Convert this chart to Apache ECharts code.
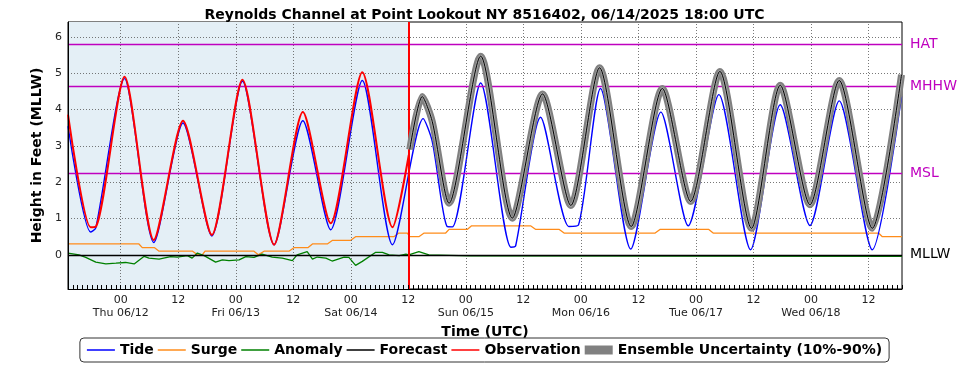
<!DOCTYPE html>
<html>
<head>
<meta charset="utf-8">
<script src="https://cdn.jsdelivr.net/npm/echarts@6/dist/echarts.min.js"></script>
<style>
  html, body { margin: 0; padding: 0; background: #fff; }
  #chart { width: 969px; height: 370px; }
</style>
</head>
<body>
<div id="chart"></div>
<script>
// hours counted from Thu 06/12 00:00
const dayLabels = ['Thu 06/12', 'Fri 06/13', 'Sat 06/14', 'Sun 06/15', 'Mon 06/16', 'Tue 06/17', 'Wed 06/18'];
const majorHours = [0, 12, 24, 36, 48, 60, 72, 84, 96, 108, 120, 132, 144, 156];
const yLabels = [0, 1, 2, 3, 4, 5, 6];
const nowHour = 60;

const tide = [[-11, 3.54], [-6.3, 0.63], [-5.2, 0.74], [0.8, 4.85], [6.9, 0.34], [13, 3.63], [19, 0.52],
  [25.4, 4.78], [32, 0.28], [38, 3.69], [43.8, 0.69], [50.4, 4.80], [56.7, 0.28], [63.1, 3.75], [65, 3.12],
  [68.1, 0.78], [69.2, 0.77], [75.1, 4.73], [81.4, 0.21], [82.4, 0.25], [87.6, 3.79], [93.5, 0.78], [95.5, 0.82],
  [100.1, 4.58], [106.4, 0.16], [112.7, 3.93], [118.4, 0.80], [124.8, 4.41], [131.4, 0.14], [137.6, 4.13],
  [143.8, 0.81], [149.9, 4.24], [156.8, 0.14], [162.9, 4.36]];

const observation = [[-11, 3.86], [-6.3, 0.76], [-5.2, 0.77], [0.8, 4.90], [6.9, 0.41], [13, 3.69], [19, 0.55],
  [25.4, 4.82], [32, 0.28], [38, 3.93], [43.8, 0.87], [50.4, 5.03], [56.7, 0.76], [60.1, 2.75]];

const forecast = [[60.3, 2.9], [62.9, 4.36], [65, 3.67], [68.5, 1.42], [75.1, 5.47], [81.7, 1.01], [88, 4.43],
  [93.9, 1.36], [99.9, 5.15], [106.5, 0.78], [113, 4.58], [118.9, 1.47], [125, 5.05], [131.6, 0.73],
  [137.6, 4.67], [143.8, 1.38], [149.9, 4.80], [156.8, 0.73], [162.9, 4.96]];

const surge = [[-11, 0.3], [3.8, 0.3], [4.5, 0.2], [7, 0.2], [8, 0.1], [15, 0.1], [16, 0.0], [17, 0.0], [17.6, 0.1],
  [27.8, 0.1], [28.7, 0.0], [29.9, 0.1], [35.1, 0.1], [36.2, 0.2], [39.1, 0.2], [40, 0.3], [43.1, 0.3], [44.2, 0.4],
  [48, 0.4], [49, 0.5], [57, 0.5], [58, 0.6], [59.8, 0.6], [60.3, 0.5], [62.2, 0.5], [63.3, 0.6], [67.8, 0.6],
  [68.5, 0.7], [72.3, 0.7], [73.2, 0.8], [85.5, 0.8], [86.6, 0.7], [91.5, 0.7], [92.5, 0.6], [111.5, 0.6],
  [112.5, 0.7], [122.7, 0.7], [123.6, 0.6], [158.1, 0.6], [158.9, 0.5], [163, 0.5]];

const anomaly = [[-11, 0.05], [-8.7, 0], [-7.3, -0.07], [-5.2, -0.2], [-3.1, -0.25], [-1, -0.23], [1, -0.21],
  [2.8, -0.25], [4.9, -0.04], [5.9, -0.09], [8, -0.12], [10.4, -0.05], [11.8, -0.06], [13.9, -0.02], [14.9, -0.09],
  [16, 0.05], [17.4, -0.02], [19.8, -0.2], [21.2, -0.14], [22.6, -0.16], [24.7, -0.14], [26.1, -0.05], [27.8, -0.07],
  [29.5, 0.02], [31.6, -0.06], [33.7, -0.09], [35.8, -0.16], [36.8, 0], [38.9, 0.09], [40, -0.12], [41, -0.06],
  [42.8, -0.09], [44.1, -0.17], [46.6, -0.06], [47.6, -0.07], [49, -0.29], [50.4, -0.18], [53.2, 0.07], [54.6, 0.07],
  [56, 0], [58.1, -0.02], [59.5, 0.02], [60.1, 0], [62.2, 0.09], [64.3, 0], [72.7, -0.03], [163, -0.04]];

const datums = [['HAT', 5.8], ['MHHW', 4.65], ['MSL', 2.25], ['MLLW', 0]];

const hourTicks = [];
for (let h = -11; h <= 163; h++) hourTicks.push(h);

const font = 'DejaVu Sans';
const magenta = '#bf00bf';
const gridLine = { type: [1, 2], color: '#555', width: 0.8 };
const lineIcon = 'path://M0,0 L28,0 L28,1.5 L0,1.5 Z';
const tideSmooth = 0.25;

const chart = echarts.init(document.getElementById('chart'));

const option = {
  animation: false,
  textStyle: { fontFamily: font },
  title: {
    text: 'Reynolds Channel at Point Lookout NY 8516402, 06/14/2025 18:00 UTC',
    left: 'center',
    top: 3,
    textStyle: { fontFamily: font, fontSize: 14, fontWeight: 'bold', color: '#000' }
  },
  grid: { left: 68, right: 67, top: 22, bottom: 81, show: true, borderColor: '#000', borderWidth: 1, backgroundColor: '#fff' },
  legend: {
    left: 'center',
    top: 338,
    itemWidth: 28,
    itemHeight: 9,
    itemGap: 4,
    padding: [5, 7],
    borderColor: '#333',
    borderWidth: 1,
    borderRadius: 4,
    textStyle: { fontFamily: font, fontSize: 14, fontWeight: 'bold', color: '#000' },
    data: [
      { name: 'Tide', icon: lineIcon },
      { name: 'Surge', icon: lineIcon },
      { name: 'Anomaly', icon: lineIcon },
      { name: 'Forecast', icon: lineIcon },
      { name: 'Observation', icon: lineIcon },
      { name: 'Ensemble Uncertainty (10%-90%)', icon: 'rect', itemStyle: { color: '#808080' } }
    ]
  },
  xAxis: {
    type: 'value',
    min: -11,
    max: 163,
    z: 10,
    name: 'Time (UTC)',
    nameLocation: 'middle',
    nameGap: 30,
    nameTextStyle: { fontFamily: font, fontSize: 14, fontWeight: 'bold', color: '#000' },
    axisLine: { show: true, onZero: false, lineStyle: { color: '#000' } },
    axisTick: { show: true, inside: true, length: 4, customValues: hourTicks, lineStyle: { color: '#000' } },
    axisLabel: {
      customValues: majorHours,
      margin: 5,
      fontSize: 11,
      color: '#222',
      lineHeight: 13,
      formatter: v => v % 24 === 0 ? '00\n' + dayLabels[v / 24] : '12'
    },
    splitLine: { show: false }
  },
  yAxis: {
    type: 'value',
    min: -0.94,
    max: 6.41,
    z: 10,
    name: 'Height in Feet (MLLW)',
    nameLocation: 'middle',
    nameGap: 22,
    nameTextStyle: { fontFamily: font, fontSize: 14, fontWeight: 'bold', color: '#000' },
    axisLine: { show: true, onZero: false, lineStyle: { color: '#000' } },
    axisTick: { show: false },
    axisLabel: { customValues: yLabels, fontSize: 11, color: '#222', margin: 6 },
    splitLine: { show: false }
  },
  series: [
    {
      // observed period shading
      type: 'line', data: [], z: 0, silent: true,
      markArea: { silent: true, itemStyle: { color: '#e4eff6' }, data: [[{ xAxis: -11 }, { xAxis: nowHour }]] }
    },
    {
      // dotted grid
      type: 'line', data: [], z: 1, silent: true,
      markLine: {
        silent: true, symbol: ['none', 'none'], label: { show: false }, lineStyle: gridLine,
        data: majorHours.map(h => ({ xAxis: h })).concat(yLabels.slice(1).map(v => ({ yAxis: v })))
      }
    },
    {
      // datum lines
      type: 'line', data: [], z: 2, silent: true,
      markLine: {
        silent: true, symbol: ['none', 'none'],
        data: datums.map(d => ({
          yAxis: d[1],
          lineStyle: { color: d[0] === 'MLLW' ? '#000' : magenta, width: 1.3, type: 'solid' },
          label: { show: true, position: 'end', distance: 8, formatter: d[0], fontFamily: font, fontSize: 14, color: d[0] === 'MLLW' ? '#000' : magenta }
        }))
      }
    },
    { name: 'Surge', type: 'line', data: surge, symbol: 'none', z: 3, lineStyle: { color: '#ff8c1a', width: 1.3 }, itemStyle: { color: '#ff8c1a' } },
    { name: 'Anomaly', type: 'line', data: anomaly, symbol: 'none', z: 3, lineStyle: { color: '#008000', width: 1.3 }, itemStyle: { color: '#008000' } },
    { name: 'Tide', type: 'line', data: tide, symbol: 'none', smooth: tideSmooth, z: 4, lineStyle: { color: '#0000ff', width: 1.4 }, itemStyle: { color: '#0000ff' } },
    {
      name: 'Observation', type: 'line', data: observation, symbol: 'none', smooth: tideSmooth, z: 5,
      lineStyle: { color: '#ff0000', width: 2 }, itemStyle: { color: '#ff0000' },
      markLine: {
        silent: true, symbol: ['none', 'none'], label: { show: false },
        lineStyle: { color: '#ff0000', width: 2, type: 'solid' },
        data: [{ xAxis: nowHour }]
      }
    },
    { name: 'Ensemble Uncertainty (10%-90%)', type: 'line', data: forecast, symbol: 'none', smooth: tideSmooth, z: 6, lineStyle: { color: '#808080', width: 7 }, itemStyle: { color: '#808080' } },
    { type: 'line', data: forecast, symbol: 'none', smooth: tideSmooth, z: 7, silent: true, lineStyle: { color: '#a4a4a4', width: 3 } },
    { name: 'Forecast', type: 'line', data: forecast, symbol: 'none', smooth: tideSmooth, z: 8, lineStyle: { color: '#000', width: 1 }, itemStyle: { color: '#000' } }
  ]
};

chart.setOption(option);
</script>
</body>
</html>
